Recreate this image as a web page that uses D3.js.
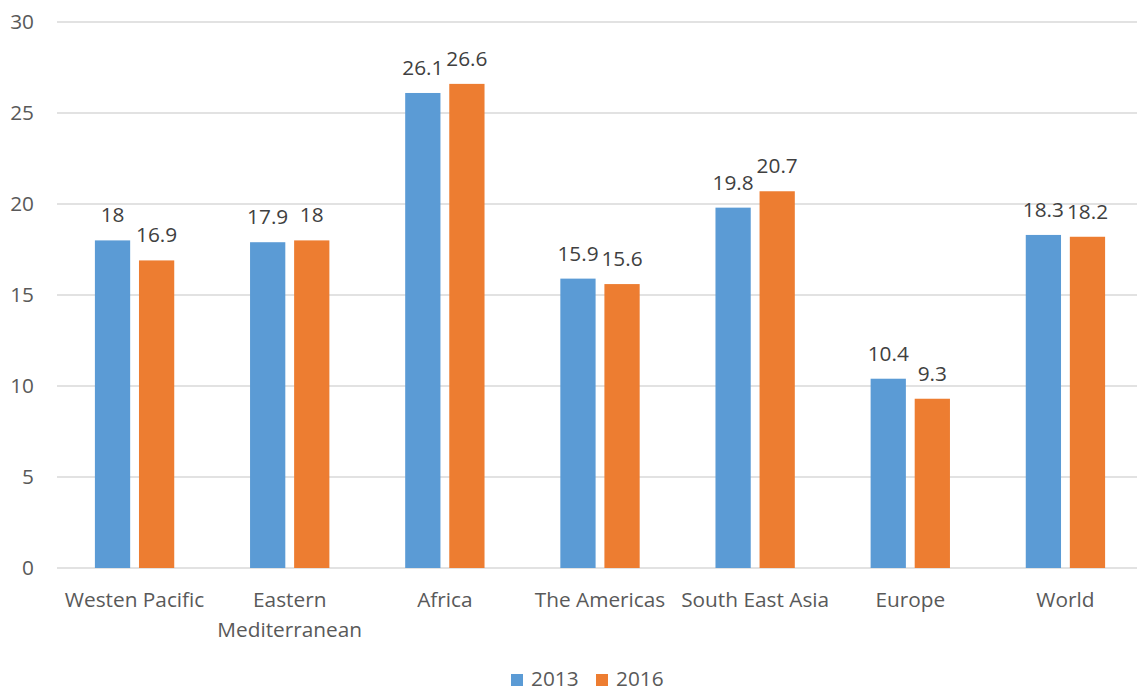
<!DOCTYPE html>
<html>
<head>
<meta charset="utf-8">
<script src="https://cdn.jsdelivr.net/npm/d3@7/dist/d3.min.js"></script>
<style>
  html, body { margin: 0; padding: 0; background: #fff; }
  svg { display: block; font-family: "Open Sans", Lato, sans-serif; }
</style>
</head>
<body>
<div id="chart"></div>
<script>
// Regions and yearly values
const categories = ["Westen Pacific", "Eastern Mediterranean", "Africa", "The Americas", "South East Asia", "Europe", "World"];
const categoryLines = [["Westen Pacific"], ["Eastern", "Mediterranean"], ["Africa"], ["The Americas"], ["South East Asia"], ["Europe"], ["World"]];
const seriesNames = ["2013", "2016"];
const values2013 = [18, 17.9, 26.1, 15.9, 19.8, 10.4, 18.3];
const values2016 = [16.9, 18, 26.6, 15.6, 20.7, 9.3, 18.2];
const yTicks = [0, 5, 10, 15, 20, 25, 30];
const colors = ["#5B9BD5", "#ED7D31"];

const W = 1137, H = 691;
const plot = { left: 57, right: 1143, top: 22, bottom: 568 };
const FONT = 20.8;

const rows = categories.map((c, i) => ({ cat: c, lines: categoryLines[i], vals: [values2013[i], values2016[i]] }));

const svg = d3.select("#chart").append("svg").attr("width", W).attr("height", H);

const x = d3.scaleBand().domain(categories).range([plot.left, plot.right]).paddingInner(0).paddingOuter(0);
const xInner = d3.scaleBand().domain(seriesNames).range([0, x.bandwidth()]).paddingInner(0.2).paddingOuter(0.86);
const y = d3.scaleLinear().domain([0, 30]).range([plot.bottom, plot.top]);

// Horizontal gridlines
svg.append("g").selectAll("line").data(yTicks).join("line")
  .attr("x1", plot.left).attr("x2", plot.right)
  .attr("y1", d => y(d)).attr("y2", d => y(d))
  .attr("stroke", "#D9D9D9").attr("stroke-width", 1.3);

// Y axis labels
const yAxis = d3.axisLeft(y).tickValues(yTicks).tickSize(0).tickPadding(0);
const yg = svg.append("g").attr("transform", `translate(${plot.left - 23},0)`).call(yAxis);
yg.select(".domain").remove();
yg.selectAll("text").attr("font-size", FONT).attr("fill", "#595959").attr("font-family", "'Open Sans', sans-serif");

// Bars
const groups = svg.append("g").selectAll("g").data(rows).join("g")
  .attr("transform", d => `translate(${x(d.cat)},0)`);

groups.selectAll("rect").data(d => d.vals.map((v, k) => ({ s: seriesNames[k], v, k }))).join("rect")
  .attr("x", d => xInner(d.s))
  .attr("width", xInner.bandwidth())
  .attr("y", d => y(d.v))
  .attr("height", d => y(0) - y(d.v))
  .attr("fill", d => colors[d.k]);

// Value labels
groups.selectAll("text.val").data(d => d.vals.map((v, k) => ({ s: seriesNames[k], v, k }))).join("text")
  .attr("class", "val")
  .attr("x", d => xInner(d.s) + xInner.bandwidth() / 2)
  .attr("y", d => y(d.v) - 18)
  .attr("text-anchor", "middle")
  .attr("font-size", FONT)
  .attr("fill", "#404040")
  .text(d => d3.format("~g")(d.v));

// Category labels
const xl = svg.append("g").selectAll("text").data(rows).join("text")
  .attr("x", d => x(d.cat) + x.bandwidth() / 2)
  .attr("y", 607)
  .attr("text-anchor", "middle")
  .attr("font-size", FONT)
  .attr("fill", "#595959");
xl.selectAll("tspan").data(d => d.lines).join("tspan")
  .attr("x", function () { return d3.select(this.parentNode).attr("x"); })
  .attr("dy", (d, i) => i === 0 ? 0 : 30)
  .text(d => d);

// Legend
const legend = svg.append("g").attr("transform", "translate(511,0)");
const items = legend.selectAll("g").data(seriesNames).join("g")
  .attr("transform", (d, i) => `translate(${i * 85},0)`);
items.append("rect").attr("x", 0).attr("y", 674).attr("width", 12).attr("height", 12)
  .attr("fill", (d, i) => colors[i]);
items.append("text").attr("x", 20).attr("y", 686)
  .attr("font-size", FONT).attr("fill", "#595959").text(d => d);
</script>
</body>
</html>
